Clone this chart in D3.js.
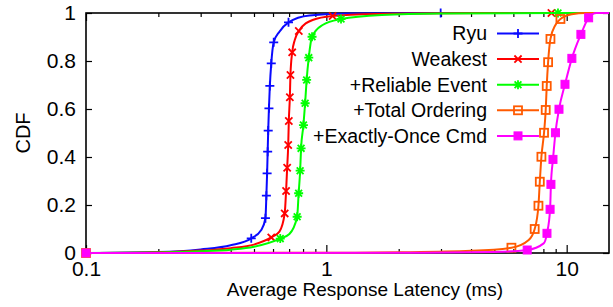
<!DOCTYPE html>
<html>
<head>
<meta charset="utf-8">
<script src="https://cdn.jsdelivr.net/npm/d3@7"></script>
<style>
  body { margin: 0; background: #fff; }
  text { font-family: "Liberation Sans", Arial, sans-serif; fill: #000; }
</style>
</head>
<body>
<svg id="chart" width="613" height="307"></svg>
<script>
// series, drawn in this order (last one on top)
const seriesNames = ["Ryu", "Weakest", "+Reliable Event", "+Total Ordering", "+Exactly-Once Cmd"];
const seriesColors = ["#0a0aff", "#ff0000", "#00ff00", "#ff5a00", "#ff00ff"];
const seriesMarkers = ["plus", "cross", "star", "square", "fillsquare"];

// [latency ms, cdf] where a marker is drawn
const ryuMarks = [[0.487, 0.061], [0.558, 0.145], [0.563, 0.239], [0.567, 0.332], [0.570, 0.422], [0.573, 0.510],
  [0.577, 0.603], [0.582, 0.696], [0.590, 0.790], [0.604, 0.878], [0.696, 0.961], [2.99, 1.0]];
const weakestMarks = [[0.590, 0.065], [0.671, 0.165], [0.680, 0.258], [0.687, 0.355], [0.694, 0.450], [0.698, 0.550],
  [0.705, 0.649], [0.709, 0.742], [0.721, 0.836], [0.768, 0.925], [1.062, 0.9875], [8.64, 1.0]];
const reliableMarks = [[0.643, 0.060], [0.756, 0.151], [0.767, 0.249], [0.778, 0.343], [0.785, 0.436], [0.803, 0.533],
  [0.816, 0.624], [0.828, 0.721], [0.845, 0.814], [0.872, 0.901], [1.151, 0.975], [9.2, 1.0]];
const orderingMarks = [[0.1, 0], [5.89, 0.022], [7.36, 0.100], [7.63, 0.197], [7.73, 0.297], [7.85, 0.401], [8.05, 0.501],
  [8.18, 0.596], [8.26, 0.696], [8.37, 0.795], [8.56, 0.892], [9.42, 0.975]];
const onceMarks = [[0.1, 0], [6.85, 0.0125], [8.28, 0.082], [8.53, 0.182], [8.60, 0.286], [8.77, 0.390], [8.98, 0.501],
  [9.29, 0.599], [9.84, 0.703], [10.51, 0.811], [11.46, 0.911], [12.34, 0.980]];

// extra points on the curves between markers
const ryuShape = [[0.1, 0], [0.2, 0.004], [0.3, 0.015], [0.4, 0.032], [0.536, 0.096], [0.638, 0.922], [0.85, 0.99], [1.25, 0.998], [15, 1]];
const weakestShape = [[0.1, 0], [0.2, 0.003], [0.3, 0.01], [0.4, 0.02], [0.5, 0.035], [0.638, 0.089], [0.739, 0.8875], [0.877, 0.971], [1.6, 0.996], [3, 0.999], [15, 1]];
const reliableShape = [[0.1, 0], [0.2, 0.002], [0.3, 0.007], [0.4, 0.014], [0.5, 0.026], [0.702, 0.079], [0.965, 0.95], [1.7, 0.992], [3, 0.998], [15, 1]];
const orderingShape = [[1, 0.001], [2, 0.003], [4, 0.009], [6.95, 0.054], [8.98, 0.95], [10.5, 0.995], [12, 1], [15, 1]];
const onceShape = [[2, 0.001], [5, 0.004], [8.02, 0.04], [13.3, 1], [15, 1]];

const allMarks = [ryuMarks, weakestMarks, reliableMarks, orderingMarks, onceMarks];
const allShapes = [ryuShape, weakestShape, reliableShape, orderingShape, onceShape];

const xMajor = [0.1, 1, 10];
const xMajorLabels = ["0.1", "1", "10"];
const xMinor = [0.2, 0.3, 0.4, 0.5, 0.6, 0.7, 0.8, 0.9, 2, 3, 4, 5, 6, 7, 8, 9];
const yTicks = [0, 0.2, 0.4, 0.6, 0.8, 1];
const yTickLabels = ["0", "0.2", "0.4", "0.6", "0.8", "1"];

const plotL = 86, plotR = 609, plotT = 13, plotB = 253;

const svg = d3.select("#chart");
const x = d3.scaleLog().domain([0.1, 15]).range([plotL, plotR]);
const y = d3.scaleLinear().domain([0, 1]).range([plotB, plotT]);

// axes, ticks pointing inward
svg.append("g").attr("transform", `translate(0,${plotB})`)
  .call(d3.axisBottom(x).tickValues(xMajor).tickFormat((d, i) => xMajorLabels[i]).tickSize(-8).tickPadding(8));
svg.append("g").attr("transform", `translate(0,${plotB})`)
  .call(d3.axisBottom(x).tickValues(xMinor).tickFormat("").tickSize(-4));
svg.append("g").attr("transform", `translate(0,${plotT})`)
  .call(d3.axisTop(x).tickValues(xMajor).tickFormat("").tickSize(-8));
svg.append("g").attr("transform", `translate(0,${plotT})`)
  .call(d3.axisTop(x).tickValues(xMinor).tickFormat("").tickSize(-4));
svg.append("g").attr("transform", `translate(${plotL},0)`)
  .call(d3.axisLeft(y).tickValues(yTicks).tickFormat((d, i) => yTickLabels[i]).tickSize(-6).tickPadding(10));
svg.append("g").attr("transform", `translate(${plotR},0)`)
  .call(d3.axisRight(y).tickValues(yTicks).tickFormat("").tickSize(-6));

svg.selectAll(".domain").remove();
svg.selectAll(".tick line").attr("stroke", "#000").attr("stroke-width", 1.2);
svg.selectAll(".tick text").style("font-size", "21px").style("font-family", '"Liberation Sans", Arial, sans-serif');

svg.append("rect")
  .attr("x", plotL).attr("y", plotT)
  .attr("width", plotR - plotL).attr("height", plotB - plotT)
  .attr("fill", "none").attr("stroke", "#000").attr("stroke-width", 1.6);

// axis titles
svg.append("text")
  .attr("x", 365).attr("y", 296)
  .attr("text-anchor", "middle")
  .style("font-size", "19px")
  .text("Average Response Latency (ms)");
svg.append("text")
  .attr("transform", "translate(30,133) rotate(-90)")
  .attr("text-anchor", "middle")
  .style("font-size", "20px")
  .text("CDF");

function markerPath(type) {
  const s = type === "cross" ? 3.6 : 4.5;
  const plus = `M${-s},0H${s}M0,${-s}V${s}`;
  const cross = `M${-s},${-s}L${s},${s}M${-s},${s}L${s},${-s}`;
  if (type === "plus") return plus;
  if (type === "cross") return cross;
  const c = 3.4;
  return plus + `M${-c},${-c}L${c},${c}M${-c},${c}L${c},${-c}`;
}

function drawMarker(sel, type, color) {
  if (type === "square" || type === "fillsquare") {
    sel.append("rect")
      .attr("x", -4).attr("y", -4).attr("width", 8).attr("height", 8)
      .attr("fill", type === "fillsquare" ? color : "none")
      .attr("stroke", color).attr("stroke-width", type === "fillsquare" ? 1 : 1.8);
  } else {
    sel.append("path")
      .attr("d", markerPath(type))
      .attr("fill", "none").attr("stroke", color).attr("stroke-width", 1.8);
  }
}

const line = d3.line()
  .x(d => x(d[0]))
  .y(d => y(d[1]))
  .curve(d3.curveMonotoneX);

seriesNames.forEach((name, i) => {
  const pts = allMarks[i].concat(allShapes[i]).sort((a, b) => a[0] - b[0]);
  const g = svg.append("g");
  g.append("path")
    .attr("d", line(pts))
    .attr("fill", "none")
    .attr("stroke", seriesColors[i])
    .attr("stroke-width", 2);
  g.selectAll(".mk")
    .data(allMarks[i])
    .join("g")
    .attr("class", "mk")
    .attr("transform", d => `translate(${x(d[0])},${y(d[1])})`)
    .each(function () { drawMarker(d3.select(this), seriesMarkers[i], seriesColors[i]); });
});

// legend
const legend = svg.append("g");
seriesNames.forEach((name, i) => {
  const ly = 33.5 + i * 25.6;
  legend.append("text")
    .attr("x", 487).attr("y", ly).attr("dy", "0.35em")
    .attr("text-anchor", "end")
    .style("font-size", "19.5px")
    .text(name);
  legend.append("line")
    .attr("x1", 497).attr("x2", 539).attr("y1", ly).attr("y2", ly)
    .attr("stroke", seriesColors[i]).attr("stroke-width", 2);
  const m = legend.append("g").attr("transform", `translate(518,${ly})`);
  drawMarker(m, seriesMarkers[i], seriesColors[i]);
});
</script>
</body>
</html>
